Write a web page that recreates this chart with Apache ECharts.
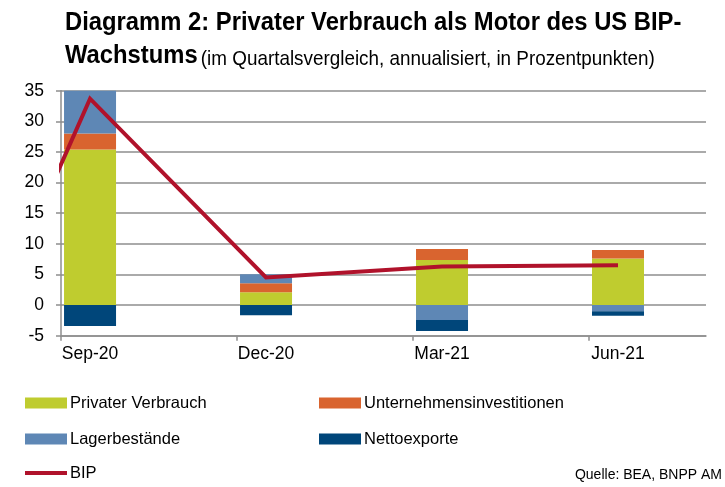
<!DOCTYPE html>
<html>
<head>
    <meta charset="utf-8">
    <title>Diagramm 2</title>
    <script src="https://cdn.jsdelivr.net/npm/echarts@6/dist/echarts.min.js"></script>
    <style>
        html, body { margin: 0; padding: 0; background: #fff; }
        #main { width: 725px; height: 487px; }
    </style>
</head>
<body>
<div id="main"></div>
<script>
    // Quartale (Jun-20 liegt links ausserhalb des Bildausschnitts, nur die BIP-Linie kommt von dort)
    var quarters = ['Jun-20', 'Sep-20', 'Dec-20', 'Mar-21', 'Jun-21'];
    var quarterPos = [0, 1, 2, 3, 4];

    // Beiträge in Prozentpunkten
    var privaterVerbrauch = [null, 25.4, 2.1, 7.35, 7.6];
    var unternehmensInv = [null, 2.6, 1.45, 1.8, 1.4];
    var lagerbestaende = [null, 7.2, 1.5, -2.45, -1.0];
    var nettoexporte = [null, -3.4, -1.65, -1.8, -0.75];
    var bip = [-31.4, 33.7, 4.5, 6.3, 6.5];

    var yTicks = [-5, 0, 5, 10, 15, 20, 25, 30, 35];

    var FONT = '"Liberation Sans", Arial, sans-serif';
    var GRID_COLOR = '#8e8e8e';

    // [wert, position] – Wert zuerst, damit der Stack auf der y-Dimension rechnet
    function pairs(values) {
        var out = [];
        for (var i = 0; i < values.length; i++) {
            if (values[i] === null) continue;
            out.push([values[i], quarterPos[i]]);
        }
        return out;
    }

    function barSeries(name, values, color) {
        return {
            name: name,
            type: 'bar',
            stack: 'beitrag',
            barWidth: 52,
            xAxisIndex: 0,
            encode: { x: 1, y: 0 },
            itemStyle: { color: color },
            data: pairs(values)
        };
    }

    function legendRow(name, left, top, height) {
        return {
            data: [{ name: name, icon: 'rect' }],
            left: left,
            top: top,
            itemWidth: 42,
            itemHeight: height,
            selectedMode: false,
            textStyle: { fontFamily: FONT, fontSize: 16.5, lineHeight: 18, color: '#000', padding: [0, 0, 0, -2] }
        };
    }

    var myChart = echarts.init(document.getElementById('main'));

    var option = {
        animation: false,
        legend: [
            legendRow('Privater Verbrauch', 20, 389, 11),
            legendRow('Lagerbestände', 20, 425, 11),
            legendRow('BIP', 20, 459, 4),
            legendRow('Unternehmensinvestitionen', 314, 389, 11),
            legendRow('Nettoexporte', 314, 425, 11)
        ],
        graphic: [{
            type: 'text',
            x: 65,
            y: 10,
            scaleX: 0.93,
            style: {
                text: 'Diagramm 2: Privater Verbrauch als Motor des US BIP-',
                fontFamily: FONT, fontSize: 25.6, fontWeight: 'bold', fill: '#000'
            }
        }, {
            type: 'text',
            x: 65,
            y: 43,
            scaleX: 0.93,
            style: {
                text: '{b|Wachstums} {s|(im Quartalsvergleich, annualisiert, in Prozentpunkten)}',
                rich: {
                    b: { fontFamily: FONT, fontSize: 25.6, fontWeight: 'bold', fill: '#000' },
                    s: { fontFamily: FONT, fontSize: 20.3, fill: '#000', verticalAlign: 'bottom' }
                }
            }
        }, {
            type: 'text',
            right: 3,
            top: 468,
            style: { text: 'Quelle: BEA, BNPP AM', fontFamily: FONT, fontSize: 14, fill: '#000' }
        }],
        grid: { left: 61, right: 19, top: 90.7, bottom: 151.3 },
        xAxis: [{
            type: 'value',
            min: 0.835,
            max: 4.5,
            position: 'bottom',
            axisLine: { show: false },
            axisTick: { show: false },
            splitLine: { show: false },
            axisLabel: {
                customValues: [1, 2, 3, 4],
                formatter: function (v) { return quarters[Math.round(v)]; },
                fontFamily: FONT,
                fontSize: 17.5,
                color: '#000',
                margin: 9
            }
        }, {
            type: 'value',
            min: 0.835,
            max: 4.5,
            position: 'bottom',
            axisLine: { show: true, onZero: true, lineStyle: { color: GRID_COLOR, width: 1.5 } },
            axisTick: { show: true, customValues: [0.835, 1.835, 2.835, 3.835], length: 5, lineStyle: { color: GRID_COLOR, width: 1.5 } },
            axisLabel: { show: false },
            splitLine: { show: false }
        }],
        yAxis: {
            type: 'value',
            min: -5,
            max: 35,
            interval: 5,
            axisLine: { show: true, lineStyle: { color: GRID_COLOR, width: 1.5 } },
            axisTick: { show: true, length: 5, lineStyle: { color: GRID_COLOR, width: 1.5 } },
            splitLine: { show: true, lineStyle: { color: GRID_COLOR, width: 1.5 } },
            axisLabel: {
                customValues: yTicks,
                fontFamily: FONT,
                fontSize: 17.5,
                color: '#000',
                margin: 17
            }
        },
        series: [
            barSeries('Privater Verbrauch', privaterVerbrauch, '#bfcc2f'),
            barSeries('Unternehmensinvestitionen', unternehmensInv, '#d9642f'),
            barSeries('Lagerbestände', lagerbestaende, '#5e87b5'),
            barSeries('Nettoexporte', nettoexporte, '#00467a'),
            {
                name: 'BIP',
                type: 'line',
                xAxisIndex: 0,
                symbol: 'none',
                z: 5,
                itemStyle: { color: '#b0122b' },
                lineStyle: { color: '#b0122b', width: 4, join: 'miter' },
                data: bip.map(function (v, i) { return [quarterPos[i], v]; })
            }
        ]
    };

    myChart.setOption(option);
</script>
</body>
</html>
